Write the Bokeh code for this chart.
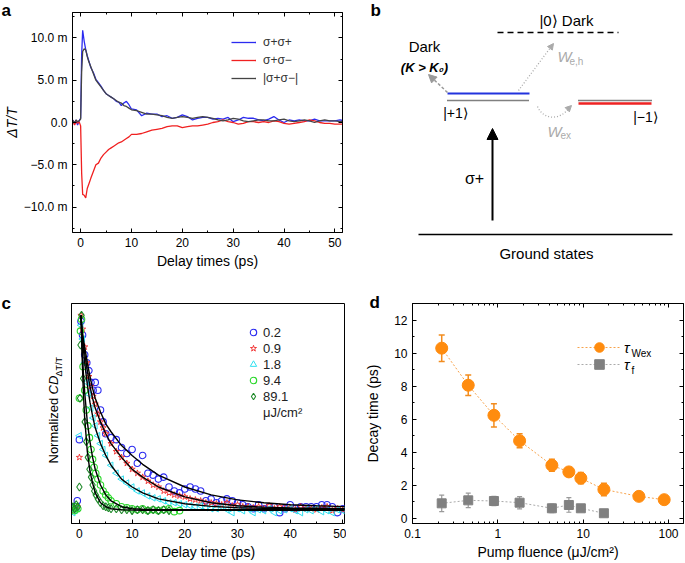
from math import pi
from bokeh.plotting import figure
from bokeh.layouts import column, row
from bokeh.models import (Range1d, LinearAxis, LogAxis, FixedTicker, CustomJSTickFormatter,
                          Legend, LegendItem, Arrow, NormalHead, Whisker, TeeHead,
                          ColumnDataSource, GridBox, Spacer)
from bokeh.core.properties import value
from bokeh.embed import file_html
from bokeh.resources import INLINE

FONT = "Liberation Sans"

# ---------------- panel a data (ΔT/T in units of 1e-3) ----------------
t_a = [-1.5, -1.2, -0.9, -0.6, -0.3, 0.0, 0.2, 0.4, 0.7, 1.0, 1.3, 1.6, 2.0, 2.5, 3.0, 3.5,
       4.0, 4.5, 5.0, 5.5, 6.0, 6.5, 7.0, 7.5, 8.0, 8.5, 9.0, 9.5, 10, 11, 12, 13, 14, 15,
       16, 17, 18, 19, 20, 21, 22, 23, 24, 25, 26, 27, 28, 29, 30, 31, 32, 33, 34, 35, 36,
       37, 38, 39, 40, 41, 42, 43, 44, 45, 46, 47, 48, 49, 50, 51, 52]
a_pp = [0.3, -0.2, 0.3, -0.3, 0.2, 0.5, 8.0, 10.9, 9.6, 8.6, 7.9, 7.3, 6.5, 5.9, 5.1, 4.7,
        4.3, 3.8, 3.4, 3.2, 3.0, 2.8, 2.5, 2.4, 2.0, 2.3, 2.5, 2.1, 1.6, 1.5, 0.8, 1.1, 1.0,
        1.0, 0.7, 0.8, 0.5, 0.6, 0.9, 0.7, 0.3, 0.5, 0.6, 0.6, 0.4, 0.5, 0.4, 0.6, 0.1, 0.3,
        0.6, 0.5, 0.5, 0.3, 0.2, 0.4, 0.7, 0.3, 0.0, 0.3, 0.2, 0.3, 0.2, 0.2, 0.4, 0.2, 0.2,
        0.2, 0.2, 0.3, 0.2]
a_pm = [0.2, -0.3, 0.1, -0.1, 0.1, -0.4, -6.0, -8.5, -8.6, -8.9, -7.8, -7.3, -6.6, -5.8,
        -5.0, -4.8, -4.2, -3.8, -3.5, -3.2, -3.0, -2.8, -2.6, -2.4, -2.3, -2.1, -1.9, -1.7,
        -1.4, -1.4, -1.3, -1.1, -0.9, -0.8, -0.7, -0.5, -0.4, -0.4, -0.6, -0.5, -0.4, -0.4,
        -0.3, -0.2, 0.0, 0.1, 0.3, 0.1, 0.0, -0.2, -0.1, 0.1, 0.1, 0.0, 0.1, 0.0, 0.2, 0.1,
        -0.1, -0.2, -0.1, 0.0, 0.1, 0.3, 0.2, 0.0, -0.1, -0.1, -0.2, -0.2, -0.2]
a_abs = [0.2, 0.0, 0.3, 0.1, 0.2, 0.4, 6.0, 8.4, 8.7, 8.6, 7.8, 7.2, 6.6, 5.8, 5.0, 4.6,
         4.2, 3.8, 3.4, 3.2, 3.0, 2.8, 2.6, 2.4, 2.3, 2.0, 1.9, 1.7, 1.5, 1.4, 1.2, 1.0,
         1.0, 0.9, 0.8, 0.6, 0.5, 0.6, 0.7, 0.6, 0.5, 0.6, 0.7, 0.6, 0.5, 0.3, 0.2, 0.3,
         0.5, 0.4, 0.2, 0.1, 0.2, 0.3, 0.3, 0.2, 0.2, 0.3, 0.4, 0.2, 0.1, 0.2, 0.3, 0.2,
         0.0, 0.2, 0.3, 0.2, 0.2, 0.1, 0.2]
a_labels = ["σ+σ+", "σ+σ−", "|σ+σ−|"]
a_xticks = [0, 10, 20, 30, 40, 50]
a_yticks = [-10, -5, 0, 5, 10]

# ---------------- panel c data (normalized CD) ----------------
t_c = [-1.2, -0.8, -0.4, 0.0, 0.3, 0.6, 1.0, 1.4, 1.8, 2.2, 2.6, 3.0, 3.5, 4.0, 4.5, 5, 6, 7,
       8, 9, 10, 11, 12, 13, 14, 15, 16, 17, 18, 19, 20, 21, 22, 23, 24, 25, 26, 27, 28, 29,
       30, 31, 32, 33, 34, 35, 36, 37, 38, 39, 40, 41, 42, 43, 44, 45, 46, 47, 48, 49, 50, 51]
c_02 = [0.02, 0.03, 0.06, 0.37, 0.97, 0.90, 0.80, 0.76, 0.72, 0.66, 0.62, 0.66, 0.62, 0.52,
        0.46, 0.40, 0.38, 0.37, 0.33, 0.30, 0.32, 0.25, 0.29, 0.20, 0.19, 0.17, 0.18, 0.13,
        0.11, 0.10, 0.12, 0.13, 0.12, 0.11, 0.06, 0.07, 0.05, 0.06, 0.07, 0.06, 0.05, 0.04,
        0.03, 0.02, 0.04, 0.02, 0.03, 0.03, 0.0, 0.02, 0.04, 0.02, 0.03, 0.03, 0.03, 0.03,
        0.04, 0.04, 0.03, 0.0, 0.02, 0.03]
c_09 = [0.01, 0.02, 0.03, 0.28, 1.0, 0.93, 0.84, 0.76, 0.69, 0.64, 0.59, 0.55, 0.50, 0.46,
        0.43, 0.40, 0.35, 0.31, 0.28, 0.25, 0.22, 0.20, 0.18, 0.16, 0.14, 0.13, 0.11, 0.10,
        0.09, 0.085, 0.08, 0.07, 0.065, 0.06, 0.05, 0.05, 0.045, 0.04, 0.05, 0.035, 0.04,
        0.03, 0.03, 0.025, 0.03, 0.02, 0.035, 0.02, 0.03, 0.02, 0.025, 0.015, 0.03, 0.02,
        0.02, 0.015, 0.025, 0.03, 0.01, 0.02, 0.015, 0.0]
c_18 = [0.0, 0.01, 0.02, 0.39, 0.95, 0.88, 0.76, 0.66, 0.60, 0.53, 0.48, 0.44, 0.39, 0.35,
        0.32, 0.29, 0.24, 0.20, 0.17, 0.15, 0.13, 0.11, 0.10, 0.085, 0.075, 0.07, 0.06,
        0.05, 0.05, 0.045, 0.04, 0.035, 0.03, 0.035, 0.025, 0.02, 0.02, 0.03, 0.015, 0.0,
        0.02, 0.01, 0.02, 0.0, 0.015, 0.01, 0.02, 0.0, 0.01, 0.015, 0.02, 0.01, 0.0, 0.015,
        0.01, 0.02, 0.005, 0.01, 0.0, 0.015, 0.01, 0.01]
t_g = [-1.2, -0.9, -0.6, -0.3, 0.0, 0.2, 0.4, 0.7, 1.0, 1.3, 1.6, 1.9, 2.2, 2.5, 2.8, 3.1,
       3.5, 4.0, 4.5, 5.0, 5.5, 6.0, 7, 8, 9, 10, 11, 12, 13, 14, 15, 16, 17, 18, 19]
c_94 = [0.02, 0.01, 0.03, 0.02, 0.58, 0.92, 0.98, 0.74, 0.62, 0.52, 0.44, 0.38, 0.32, 0.27,
        0.23, 0.20, 0.17, 0.14, 0.11, 0.09, 0.075, 0.06, 0.045, 0.03, 0.025, 0.02, 0.015,
        0.02, 0.01, 0.015, 0.01, 0.015, 0.02, 0.005, 0.01]
t_dg = [-1.2, -0.9, -0.6, -0.3, 0.0, 0.1, 0.2, 0.4, 0.7, 1.0, 1.3, 1.6, 1.9, 2.2, 2.5, 2.8,
        3.1, 3.5, 4.0, 4.5, 5.0, 5.5, 6.0, 7, 8, 9, 10, 11, 12, 13, 14, 15, 16, 17]
c_891 = [0.03, 0.02, 0.04, 0.03, 0.13, 0.58, 0.85, 1.0, 0.68, 0.46, 0.36, 0.28, 0.22, 0.18,
         0.14, 0.11, 0.09, 0.07, 0.05, 0.035, 0.03, 0.025, 0.02, 0.02, 0.015, 0.015, 0.01,
         0.015, 0.015, 0.01, 0.015, 0.01, 0.015, 0.01]
t_fit = [0.3, 0.5, 0.75, 1.0, 1.5, 2.0, 2.5, 3.0, 4.0, 5.0, 6.0, 8.0, 10.0, 12.0, 15.0, 20.0,
         25.0, 30.0, 35.0, 40.0, 45.0, 51.0]
fit_02 = [1.0, 0.93, 0.88, 0.84, 0.76, 0.69, 0.63, 0.58, 0.51, 0.45, 0.41, 0.34, 0.29, 0.245,
          0.19, 0.13, 0.09, 0.065, 0.05, 0.04, 0.035, 0.03]
fit_09 = [1.0, 0.92, 0.86, 0.81, 0.72, 0.64, 0.58, 0.53, 0.46, 0.40, 0.35, 0.28, 0.22, 0.18,
          0.13, 0.08, 0.05, 0.035, 0.028, 0.024, 0.022, 0.02]
fit_18 = [1.0, 0.90, 0.83, 0.76, 0.65, 0.56, 0.49, 0.43, 0.35, 0.29, 0.24, 0.17, 0.13, 0.10,
          0.07, 0.045, 0.032, 0.025, 0.022, 0.02, 0.02, 0.02]
fit_94 = [1.0, 0.85, 0.71, 0.61, 0.46, 0.36, 0.28, 0.22, 0.14, 0.09, 0.06, 0.03, 0.02, 0.017,
          0.015, 0.015, 0.015, 0.015, 0.015, 0.015, 0.015, 0.015]
fit_891 = [1.0, 0.80, 0.61, 0.48, 0.31, 0.21, 0.15, 0.10, 0.05, 0.03, 0.02, 0.015, 0.013,
           0.012, 0.012, 0.012, 0.012, 0.012, 0.012, 0.012, 0.012, 0.012]
c_labels = ["0.2", "0.9", "1.8", "9.4", "89.1", "μJ/cm²"]

# ---------------- panel d data ----------------
flu_w = [0.22, 0.45, 0.9, 1.8, 4.3, 6.8, 9.4, 17.5, 45, 89.1]
tau_w = [10.3, 8.06, 6.24, 4.7, 3.22, 2.82, 2.44, 1.76, 1.34, 1.14]
err_w = [0.8, 0.62, 0.7, 0.42, 0.36, 0.27, 0.34, 0.38, 0.08, 0.08]
flu_f = [0.22, 0.45, 0.9, 1.8, 4.3, 6.8, 9.4, 17.5]
tau_f = [0.92, 1.1, 1.06, 0.96, 0.62, 0.82, 0.62, 0.32]
err_f = [0.5, 0.44, 0.28, 0.37, 0.26, 0.44, 0.15, 0.1]
d_xticks = [0.1, 1, 10, 100]
d_yticks = [0, 2, 4, 6, 8, 10, 12]


def style_axis(ax, fs="12px"):
    ax.major_label_text_font = FONT
    ax.major_label_text_font_size = fs
    ax.major_label_text_color = "black"
    ax.axis_label_text_font = FONT
    ax.axis_label_text_font_size = "14px"
    ax.axis_label_text_font_style = "normal"
    ax.axis_label_text_color = "black"
    ax.axis_line_color = "black"
    ax.major_tick_line_color = "black"
    ax.minor_tick_line_color = "black"
    ax.major_tick_in = 4
    ax.major_tick_out = 0
    ax.minor_tick_in = 2
    ax.minor_tick_out = 0
    ax.major_label_standoff = 5
    ax.axis_label_standoff = 3


def mirror(p, side, ticker, log=False):
    ax = LogAxis(ticker=ticker) if log else LinearAxis(ticker=ticker)
    style_axis(ax)
    ax.formatter = CustomJSTickFormatter(code="return '';")
    ax.major_label_text_font_size = "0px"
    ax.major_label_standoff = 0
    ax.axis_label_standoff = 0
    p.add_layout(ax, side)


def base_fig(**kw):
    p = figure(output_backend="svg", toolbar_location=None, **kw)
    p.grid.visible = False
    p.outline_line_color = "black"
    p.outline_line_alpha = 1.0
    p.background_fill_color = "white"
    p.border_fill_color = "white"
    return p


# ================= panel a =================
pa = base_fig(width=343, height=290, x_range=Range1d(-1.6, 51.5), y_range=Range1d(-13, 13),
              min_border_left=71, min_border_right=1, min_border_top=12, min_border_bottom=58)
xt_a = FixedTicker(ticks=a_xticks, minor_ticks=[5, 15, 25, 35, 45])
yt_a = FixedTicker(ticks=a_yticks, minor_ticks=[-12.5, -7.5, -2.5, 2.5, 7.5, 12.5])
pa.xaxis.ticker = xt_a
pa.yaxis.ticker = yt_a
for ax in pa.xaxis + pa.yaxis:
    style_axis(ax)
pa.yaxis.formatter = CustomJSTickFormatter(
    code="if (tick == 0) return '0.0'; return (tick < 0 ? '\u2212' : '') + Math.abs(tick).toFixed(1) + ' m';")
pa.xaxis.axis_label = "Delay times (ps)"
pa.yaxis.axis_label = "ΔT/T"
pa.yaxis.axis_label_text_font_style = "italic"
pa.yaxis.major_label_standoff = 5
pa.yaxis.axis_label_standoff = 1
mirror(pa, "above", xt_a)
mirror(pa, "right", yt_a)

ra1 = pa.line(t_a, a_pp, line_color="#2b2bf0", line_width=1.3)
ra2 = pa.line(t_a, a_pm, line_color="#f02020", line_width=1.3)
ra3 = pa.line(t_a, a_abs, line_color="#444444", line_width=1.3)
leg_a = Legend(items=[LegendItem(label=a_labels[0], renderers=[ra1]),
                      LegendItem(label=a_labels[1], renderers=[ra2]),
                      LegendItem(label=a_labels[2], renderers=[ra3])],
               location=(159, 147), padding=0, margin=0, spacing=4, glyph_width=25,
               glyph_height=14, label_height=14, label_standoff=7,
               label_text_font=FONT, label_text_font_size="12px", label_text_color="#333333",
               border_line_color=None, background_fill_alpha=0)
pa.add_layout(leg_a)

# ================= panel c =================
pc = base_fig(width=346, height=272, x_range=Range1d(-1.5, 50.3), y_range=Range1d(-0.055, 1.06),
              min_border_left=71, min_border_right=2, min_border_top=13, min_border_bottom=38)
xt_c = FixedTicker(ticks=a_xticks, minor_ticks=[5, 15, 25, 35, 45])
pc.xaxis.ticker = xt_c
for ax in pc.xaxis + pc.yaxis:
    style_axis(ax)
pc.xaxis.axis_label = "Delay time (ps)"
pc.yaxis.major_tick_line_color = None
pc.yaxis.minor_tick_line_color = None
pc.yaxis.major_label_text_font_size = "0px"
pc.yaxis.formatter = CustomJSTickFormatter(code="return '';")
pc.yaxis.major_label_standoff = 0

r1 = pc.scatter(t_c, c_02, marker="circle", size=6.5, fill_color=None, line_color="#2a2af0",
                line_width=1.1)
r2 = pc.scatter(t_c, c_09, marker="star", size=6.5, fill_color=None, line_color="#f02a2a",
                line_width=0.9)
r3 = pc.scatter(t_c, c_18, marker="triangle", angle=pi / 2, size=6.5, fill_color=None,
                line_color="#2ee0f0", line_width=1.0)
r4 = pc.scatter(t_g, c_94, marker="circle", size=6.5, fill_color=None, line_color="#2ad82a",
                line_width=1.1)
r5 = pc.scatter(t_dg, c_891, marker="diamond", size=8, fill_color=None, line_color="#1f8a2a",
                line_width=1.1)
for fy in (fit_02, fit_09, fit_18, fit_94, fit_891):
    pc.line(t_fit, fy, line_color="black", line_width=1.4)
r6 = pc.scatter([0], [0], marker="circle", size=1, alpha=0)
leg_c = Legend(items=[LegendItem(label=c_labels[i], renderers=[r])
                      for i, r in enumerate([r1, r2, r3, r4, r5, r6])],
               location=(174, 103), padding=0, margin=0, spacing=0, glyph_width=16,
               glyph_height=16, label_height=16, label_standoff=2,
               label_text_font=FONT, label_text_font_size="13px", label_text_color="#222222",
               border_line_color=None, background_fill_alpha=0)
pc.add_layout(leg_c)

# ================= panel d =================
pd_ = base_fig(width=338, height=272, x_axis_type="log", x_range=Range1d(0.1, 150),
               y_range=Range1d(-0.3, 13),
               min_border_left=66, min_border_right=1, min_border_top=13, min_border_bottom=38)
minors = [m * d for d in (0.1, 1, 10) for m in (2, 3, 4, 5, 6, 7, 8, 9)]
xt_d = FixedTicker(ticks=d_xticks, minor_ticks=minors)
yt_d = FixedTicker(ticks=d_yticks, minor_ticks=[1, 3, 5, 7, 9, 11])
pd_.xaxis.ticker = xt_d
pd_.yaxis.ticker = yt_d
for ax in pd_.xaxis + pd_.yaxis:
    style_axis(ax)
pd_.yaxis.axis_label_standoff = 10
pd_.xaxis.formatter = CustomJSTickFormatter(
    code="return tick < 1 ? tick.toFixed(1) : tick.toFixed(0);")
pd_.xaxis.axis_label = "Pump fluence (μJ/cm²)"
pd_.yaxis.axis_label = "Decay time (ps)"
mirror(pd_, "above", xt_d, log=True)
mirror(pd_, "right", yt_d)

src_w = ColumnDataSource(dict(x=flu_w, y=tau_w,
                              lo=[v - e for v, e in zip(tau_w, err_w)],
                              hi=[v + e for v, e in zip(tau_w, err_w)]))
src_f = ColumnDataSource(dict(x=flu_f, y=tau_f,
                              lo=[v - e for v, e in zip(tau_f, err_f)],
                              hi=[v + e for v, e in zip(tau_f, err_f)]))
lw = pd_.line("x", "y", source=src_w, line_color="#f7a24a", line_width=1, line_dash="2 2")
lf = pd_.line("x", "y", source=src_f, line_color="#aaaaaa", line_width=1, line_dash="2 2")
pd_.add_layout(Whisker(source=src_w, base="x", lower="lo", upper="hi", line_color="#f28c1e",
                       line_width=1.5,
                       upper_head=TeeHead(size=6, line_color="#f28c1e", line_width=1.5),
                       lower_head=TeeHead(size=6, line_color="#f28c1e", line_width=1.5)))
pd_.add_layout(Whisker(source=src_f, base="x", lower="lo", upper="hi", line_color="#9a9a9a",
                       line_width=1.2,
                       upper_head=TeeHead(size=5, line_color="#9a9a9a", line_width=1.2),
                       lower_head=TeeHead(size=5, line_color="#9a9a9a", line_width=1.2)))
sw = pd_.scatter("x", "y", source=src_w, marker="circle", size=12, fill_color="#ff8c0f",
                 line_color="#ff8c0f")
sf = pd_.scatter("x", "y", source=src_f, marker="square", size=9, fill_color="#808080",
                 line_color="#808080")
for item, loc in ((LegendItem(label="τ", renderers=[lw, sw]), (165, 164)),
                  (LegendItem(label="τ", renderers=[lf, sf]), (165, 147))):
    pd_.add_layout(Legend(items=[item], location=loc, padding=0, margin=0, spacing=0,
                          glyph_width=44, glyph_height=24, label_height=24, label_standoff=3,
                          label_text_font=FONT, label_text_font_size="15px",
                          label_text_font_style="italic", label_text_color="black",
                          border_line_color=None, background_fill_alpha=0))

# ================= overlay: panel b schematic, panel letters, composite labels ==========
po = figure(output_backend="svg", toolbar_location=None, width=684, height=562,
            x_range=Range1d(0, 684), y_range=Range1d(562, 0),
            x_axis_location=None, y_axis_location=None, min_border=0)
po.grid.visible = False
po.outline_line_color = None
po.background_fill_color = None
po.border_fill_color = None


def otext(x, y, s, size="15px", color="black", style="normal", align="center", angle=0.0):
    po.text(x=[x], y=[y], text=[s], text_font=value(FONT), text_font_size=size,
            text_color=color, text_font_style=style, text_align=align,
            text_baseline="middle", angle=angle)


# panel letters
otext(1, 10, "a", size="17px", style="bold", align="left")
otext(370, 10, "b", size="17px", style="bold", align="left")
otext(1, 303, "c", size="17px", style="bold", align="left")
otext(369, 302, "d", size="17px", style="bold", align="left")

# panel b schematic
otext(566, 20, "|0⟩ Dark")
po.segment(x0=[497], y0=[32], x1=[618], y1=[32], line_color="black", line_width=1.5,
           line_dash="6 4")
otext(424, 46, "Dark")
otext(424, 67, "(K > K₀)", size="13px", style="bold italic")
po.add_layout(Arrow(x_start=447, y_start=92, x_end=428, y_end=74, line_color="#9a9a9a",
                    line_width=1.5, line_dash="3 2",
                    end=NormalHead(size=8, fill_color="#9a9a9a", line_color="#9a9a9a")))
po.segment(x0=[447], y0=[93], x1=[529], y1=[93], line_color="#2233dd", line_width=2)
po.segment(x0=[447], y0=[100], x1=[529], y1=[100], line_color="black", line_width=1.5,
           line_dash="1 1")
otext(455, 112, "|+1⟩", size="14px")
po.add_layout(Arrow(x_start=518, y_start=90, x_end=553, y_end=43, line_color="#aaaaaa",
                    line_width=1.3, line_dash="1 2",
                    end=NormalHead(size=6, fill_color="#aaaaaa", line_color="#aaaaaa")))
otext(557, 56, "W", size="15px", color="#aaaaaa", style="italic", align="left")
otext(569, 61, "e,h", size="10px", color="#aaaaaa", align="left")
po.bezier(x0=[537], y0=[106], x1=[569], y1=[107], cx0=[543], cy0=[120], cx1=[560], cy1=[120],
          line_color="#aaaaaa", line_width=1.3, line_dash="1 2")
po.add_layout(Arrow(x_start=566, y_start=110, x_end=571, y_end=105, line_alpha=0,
                    end=NormalHead(size=6, fill_color="#aaaaaa", line_color="#aaaaaa")))
otext(547, 131, "W", size="15px", color="#aaaaaa", style="italic", align="left")
otext(560, 135, "ex", size="10px", color="#aaaaaa", align="left")
po.segment(x0=[578], y0=[103], x1=[651], y1=[103], line_color="#ee2222", line_width=2.5)
po.segment(x0=[578], y0=[100], x1=[651], y1=[100], line_color="black", line_width=1.5,
           line_dash="1 1")
otext(645, 116, "|−1⟩", size="14px")
po.add_layout(Arrow(x_start=492, y_start=220, x_end=492, y_end=128, line_color="black",
                    line_width=2, end=NormalHead(size=11, fill_color="black", line_color="black")))
otext(474, 178, "σ+", size="16px")
po.segment(x0=[418], y0=[234], x1=[672], y1=[234], line_color="black", line_width=1.5)
otext(546, 253, "Ground states", size="15px")

# panel c composite y label: Normalized CD_{ΔT/T}
otext(53, 463, "Normalized ", size="13px", align="left", angle=pi / 2)
otext(53, 394, "CD", size="13px", style="italic", align="left", angle=pi / 2)
otext(58, 376, "ΔT/T", size="9px", align="left", angle=pi / 2)
# panel d legend subscripts
otext(631, 353, "Wex", size="10px", align="left")
otext(631, 370, "f", size="10px", align="left")

main = column(row(pa, Spacer(width=341, height=290)), row(pc, pd_))
layout = GridBox(children=[(main, 0, 0), (po, 0, 0)])
open("out.html", "w").write(file_html(layout, INLINE))
